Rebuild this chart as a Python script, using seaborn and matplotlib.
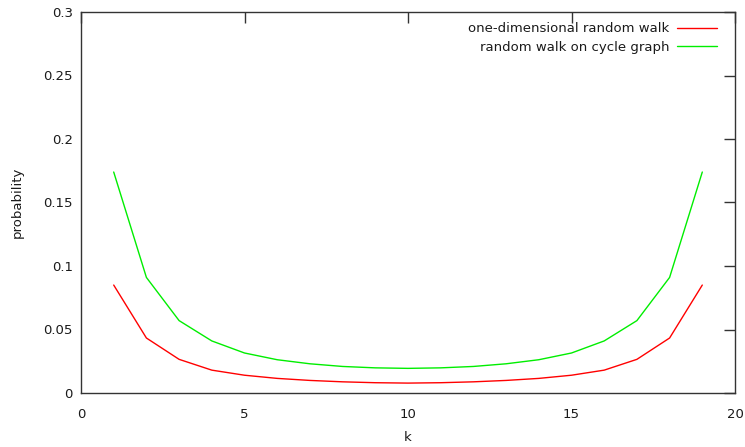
import numpy as np
import pandas as pd
import seaborn as sns
import matplotlib
matplotlib.use('Agg')
import matplotlib.pyplot as plt
from matplotlib.ticker import FuncFormatter

k = list(range(1, 20))
one_dim = [0.085, 0.0433, 0.0265, 0.018, 0.0140, 0.0115, 0.0099, 0.0088, 0.0081, 0.0078,
           0.0081, 0.0088, 0.0099, 0.0115, 0.0140, 0.018, 0.0265, 0.0433, 0.085]
cycle = [0.174, 0.091, 0.057, 0.041, 0.0315, 0.0262, 0.0230, 0.0209, 0.0198, 0.0194,
         0.0198, 0.0209, 0.0230, 0.0262, 0.0315, 0.041, 0.057, 0.091, 0.174]
labels = ['one-dimensional random walk', 'random walk on cycle graph']
colors = {labels[0]: '#ff0000', labels[1]: '#00ee00'}

df = pd.DataFrame({
    'k': k * 2,
    'probability': one_dim + cycle,
    'series': [labels[0]] * len(k) + [labels[1]] * len(k),
})

sns.set_style('white')
plt.rcParams['font.family'] = ['DejaVu Sans']
plt.rcParams['font.size'] = 9.5

fig = plt.figure(figsize=(7.45, 4.47), dpi=100)
ax = fig.add_axes([81 / 745, 54 / 447, 654 / 745, 381 / 447])

sns.lineplot(data=df, x='k', y='probability', hue='series', palette=colors,
             linewidth=1.0, ax=ax, legend=False)

ax.set_xlim(0, 20)
ax.set_ylim(0, 0.3)
ax.set_xticks(range(0, 21, 5))
ax.set_yticks(np.arange(0, 0.301, 0.05))
ax.yaxis.set_major_formatter(FuncFormatter(lambda v, p: f'{v:g}'))
ax.tick_params(direction='in', length=8, width=1, top=True, right=True,
               labeltop=False, labelright=False, colors='#333333', labelcolor='#1a1a1a',
               labelsize=9.5, pad=6)
ax.tick_params(axis='x', pad=11)
for s in ax.spines.values():
    s.set_color('#333333')
    s.set_linewidth(1.0)

ax.set_xlabel('k', fontsize=9.5, labelpad=7, color='#1a1a1a')
ax.set_ylabel('probability', fontsize=9.5, labelpad=14, color='#1a1a1a')

# gnuplot-style key: text right-aligned, sample line on the right
for lab, ypix in zip(labels, [29, 47.5]):
    h = plt.Line2D([], [], color=colors[lab], linewidth=1.0)
    leg = fig.legend([h], [lab], loc='center right', frameon=False, markerfirst=False,
                     handlelength=3.0, handletextpad=0.6, borderpad=0, borderaxespad=0,
                     bbox_to_anchor=(717 / 745, 1 - ypix / 447), bbox_transform=fig.transFigure,
                     fontsize=9.5)
    for t in leg.get_texts():
        t.set_color('#1a1a1a')

fig.savefig('out.png', dpi=100)
